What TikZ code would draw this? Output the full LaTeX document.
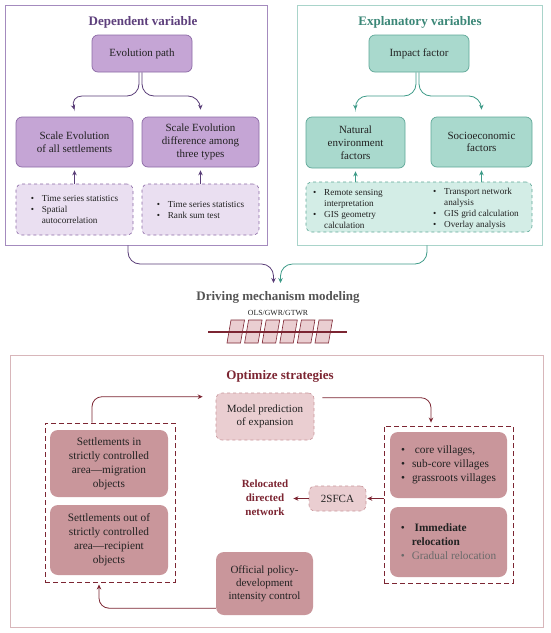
\documentclass[tikz,border=0pt]{standalone}
\usepackage{fontspec}
\setmainfont{Liberation Serif}
\usetikzlibrary{arrows.meta,calc}
\definecolor{pdraw}{HTML}{8C6AA6}
\definecolor{pfill}{HTML}{C5A5D5}
\definecolor{plight}{HTML}{EADFF1}
\definecolor{pouter}{HTML}{A48BBE}
\definecolor{ptitle}{HTML}{5D3F7C}
\definecolor{parrow}{HTML}{5A3E78}
\definecolor{tdraw}{HTML}{5FA898}
\definecolor{tfill}{HTML}{A9D9CD}
\definecolor{tlight}{HTML}{D3EDE6}
\definecolor{touter}{HTML}{A9D4CA}
\definecolor{ttitle}{HTML}{3B8777}
\definecolor{tarrow}{HTML}{3E9B88}
\definecolor{rdark}{HTML}{7C2532}
\definecolor{rfill}{HTML}{C9969B}
\definecolor{rlight}{HTML}{EACED1}
\definecolor{router}{HTML}{D8B6BA}
\definecolor{gtitle}{HTML}{545454}
\definecolor{txt}{HTML}{222222}
\definecolor{gtxt}{HTML}{6A6A6A}
\newcommand{\bi}[1]{\makebox[11pt][l]{\textbullet}#1}
\newcommand{\bc}[1]{\hspace*{11pt}#1}
\begin{document}
\begin{tikzpicture}[x=1pt,y=-1pt,
  every node/.style={inner sep=1pt, text=txt},
  mainfont/.style={font=\fontsize{11}{12.8}\selectfont},
  smallfont/.style={font=\fontsize{9.2}{11}\selectfont},
  bigfont/.style={font=\fontsize{11.3}{14}\selectfont},
  titlefont/.style={font=\fontsize{13}{15}\selectfont\bfseries},
  outerp/.style={draw=pouter, line width=0.9pt},
  outert/.style={draw=touter, line width=0.9pt},
  outerr/.style={draw=router, line width=0.9pt},
  pbox/.style={mainfont, align=center, draw=pdraw, fill=pfill, line width=0.7pt, rounded corners=6pt},
  pdash/.style={smallfont, align=left, draw=pdraw, fill=plight, line width=0.6pt, dashed, rounded corners=6pt},
  tbox/.style={mainfont, align=center, draw=tdraw, fill=tfill, line width=0.7pt, rounded corners=6pt},
  tdashbox/.style={draw=tdraw, fill=tlight, line width=0.6pt, dashed, rounded corners=6pt},
  rbox/.style={bigfont, align=center, fill=rfill, rounded corners=8pt},
  rlbox/.style={bigfont, align=center, fill=rlight, draw=rfill, dashed, line width=0.6pt, rounded corners=6pt},
  rgroup/.style={draw=rdark, line width=0.9pt, dash pattern=on 5pt off 3pt},
  tip/.style={-{Stealth[length=5pt,width=4.5pt]}},
  parr/.style={tip, draw=parrow, line width=0.8pt},
  tarr/.style={tip, draw=tarrow, line width=0.8pt},
  rarr/.style={tip, draw=rdark, line width=0.8pt}
]
\useasboundingbox (0,0) rectangle (550,633);
\fill[white] (0,0) rectangle (550,633);

% ---------------- Dependent variable ----------------
\node[outerp, minimum width=262, minimum height=240] (depbox) at (136,125) {};
\node[titlefont, text=ptitle] (deptitle) at (143,22) {Dependent variable};
\node[pbox, minimum width=100, minimum height=37] (evo) at (142,53.5) {Evolution path};
\node[pbox, minimum width=117, minimum height=50] (sl) at (74.5,142) {Scale Evolution\\of all settlements};
\node[pbox, minimum width=117, minimum height=50] (sr) at (200.5,142) {Scale Evolution\\difference among\\three types};
\node[pdash, minimum width=117, minimum height=51] (dl) at (74.5,209.5) {\bi{Time series statistics}\\\bi{Spatial}\\\bc{autocorrelation}};
\node[pdash, minimum width=117, minimum height=51] (dr) at (200.5,209.5) {\bi{Time series statistics}\\\bi{Rank sum test}};

\draw[parr, rounded corners=12] ([xshift=-3]evo.south) |- (70,96) -- ([yshift=7]sl.north);
\draw[parr, rounded corners=12] ([xshift=0]evo.south) |- (200,96) -- ([yshift=7]sr.north);
\draw[parr, shorten >=3pt] (dl.north) -- (sl.south);
\draw[parr, shorten >=3pt] (dr.north) -- (sr.south);

% ---------------- Explanatory variables ----------------
\node[outert, minimum width=245, minimum height=240] (expbox) at (419.5,125) {};
\node[titlefont, text=ttitle] (exptitle) at (420,22) {Explanatory variables};
\node[tbox, minimum width=100, minimum height=37] (imp) at (419,53.5) {Impact factor};
\node[tbox, minimum width=99, minimum height=51] (nat) at (355.5,142.5) {Natural\\environment\\factors};
\node[tbox, minimum width=101, minimum height=50] (soc) at (481.5,142) {Socioeconomic\\factors};
\node[tdashbox, minimum width=226, minimum height=50] (tdash) at (419,207) {};
\node[smallfont, align=left, anchor=west] (tcol1) at (312,208.5) {\bi{Remote sensing}\\\bc{interpretation}\\\bi{GIS geometry}\\\bc{calculation}};
\node[smallfont, align=left, anchor=west] (tcol2) at (432,208.5) {\bi{Transport network}\\\bc{analysis}\\\bi{GIS grid calculation}\\\bi{Overlay analysis}};

\draw[tarr, rounded corners=12] ([xshift=-3]imp.south) |- (355,96) -- ([yshift=7]nat.north);
\draw[tarr, rounded corners=12] ([xshift=0]imp.south) |- (481,96) -- ([yshift=7]soc.north);
\draw[tarr, shorten >=3pt] (tdash.north -| nat.south) -- (nat.south);
\draw[tarr, shorten >=3pt] (tdash.north -| soc.south) -- (soc.south);

% ---------------- Driving mechanism ----------------
\node[titlefont, text=gtitle] (drive) at (278,297) {Driving mechanism modeling};
\node[font=\fontsize{7.8}{9}\selectfont, text=txt] (ols) at (278,313) {OLS/GWR/GTWR};
\coordinate (dtipL) at (273.5,283);
\coordinate (dtipR) at (280.5,283);
\draw[parr, rounded corners=12] ([xshift=-8]depbox.south) |- ($(dtipL)+(0,-19)$) -- (dtipL);
\draw[tarr, rounded corners=12] ([xshift=7.5]expbox.south) |- ($(dtipR)+(0,-19)$) -- (dtipR);

\foreach \i in {0,...,5}{
  \pgfmathsetmacro{\xo}{227+17.6*\i}
  \filldraw[fill=rlight, draw=rdark, line width=0.6pt]
    (\xo,343) -- (\xo+13.5,343) -- (\xo+17.5,320) -- (\xo+4,320) -- cycle;
}
\draw[draw=rdark, line width=1.6pt] (208,332) -- (347,332);

% ---------------- Optimize strategies ----------------
\node[outerr, minimum width=533, minimum height=272] (optbox) at (276.5,491) {};
\node[titlefont, text=rdark] (opttitle) at (280,376) {Optimize strategies};
\node[rlbox, font=\fontsize{11}{13}\selectfont, minimum width=98, minimum height=47] (model) at (265,416.5) {Model prediction\\of expansion};

\node[rgroup, minimum width=130, minimum height=159] (lg) at (110,502.5) {};
\node[rbox, minimum width=118, minimum height=67] (b1) at (109,463.5) {Settlements in\\strictly controlled\\area—migration\\objects};
\node[rbox, minimum width=118, minimum height=70] (b2) at (109,540) {Settlements out of\\strictly controlled\\area—recipient\\objects};

\node[rgroup, minimum width=129, minimum height=157] (rg) at (448.5,504.5) {};
\node[rbox, align=left, minimum width=117, minimum height=66] (rb1) at (448.5,465) {\bi{\ core villages,}\\\bi{sub-core villages}\\\bi{grassroots villages}};
\node[rbox, align=left, minimum width=117, minimum height=70] (rb2) at (448.5,542) {\bi{\ \textbf{Immediate}}\\\bc{\textbf{relocation}}\\{\color{gtxt}\bi{Gradual relocation}}};

\node[rlbox, font=\fontsize{11}{13}\selectfont, minimum width=57, minimum height=25] (sfca) at (337.5,498.5) {2SFCA};
\node[font=\fontsize{11}{14}\selectfont\bfseries, text=rdark, align=center] (reloc) at (265,498) {Relocated\\directed\\network};
\node[rbox, font=\fontsize{11}{13}\selectfont, minimum width=97, minimum height=63] (off) at (264.5,583.5) {Official policy-\\development\\intensity control};

\draw[rarr, rounded corners=10] ([xshift=-18]lg.north) |- ([xshift=-13,yshift=-4]model.north west);
\draw[rarr, rounded corners=10] ([xshift=8,yshift=-5]model.north east) -| ([xshift=-17.5,yshift=3]rg.north);
\draw[rarr, shorten >=1pt] (rg.west |- sfca.east) -- (sfca.east);
\draw[rarr, shorten >=4pt] (sfca.west) -- (reloc.east |- sfca.west);
\draw[rarr, rounded corners=10] ([yshift=7]off.south west) -| ([xshift=-11,yshift=-2]lg.south);
\end{tikzpicture}
\end{document}
